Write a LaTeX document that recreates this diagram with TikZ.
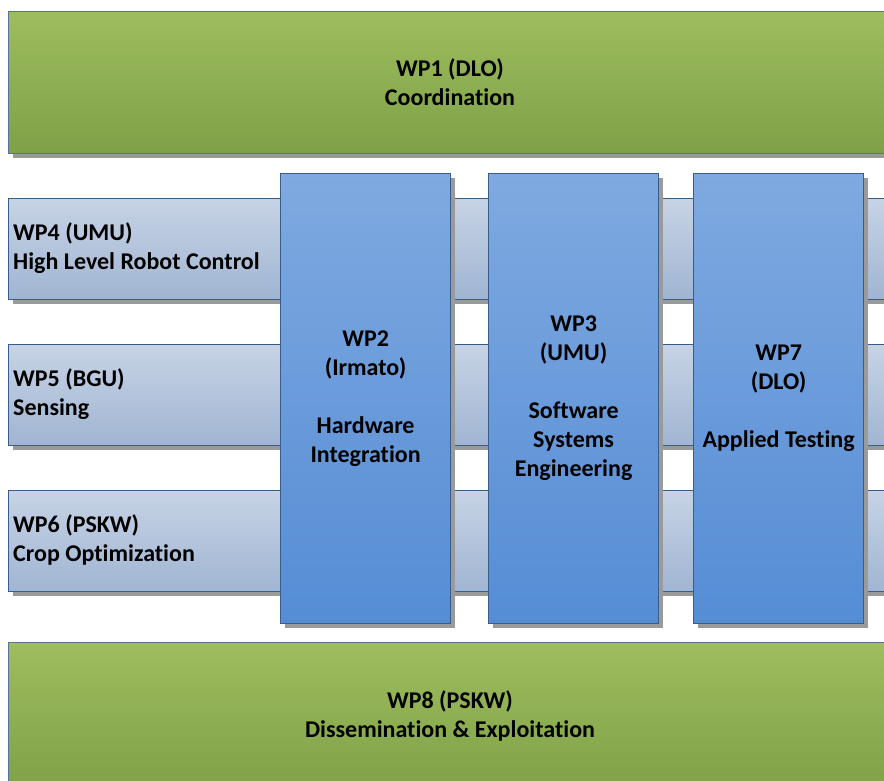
\documentclass[tikz,border=0pt]{standalone}
\usepackage{fontspec}
\setmainfont{Carlito}[Ligatures=NoCommon]
\usetikzlibrary{shadows}
\definecolor{greenT}{HTML}{9DBD5E}
\definecolor{greenB}{HTML}{7FA046}
\definecolor{greenE}{HTML}{5A7394}
\definecolor{bandT}{HTML}{C7D3E5}
\definecolor{bandB}{HTML}{A0B5D2}
\definecolor{colT}{HTML}{7FA9E0}
\definecolor{colB}{HTML}{558DD5}
\definecolor{edgeB}{HTML}{385D8A}
\definecolor{shade}{HTML}{9A9A9A}
\tikzset{
  x=1pt, y=-1pt,
  shd/.style={drop shadow={shadow xshift=4pt, shadow yshift=-4pt, fill=shade, opacity=1}},
  greenbox/.style={rectangle, draw=greenE, line width=1.2pt, top color=greenT, bottom color=greenB, shd, anchor=north west, inner sep=0pt},
  bandbox/.style={rectangle, draw=edgeB, line width=1.2pt, top color=bandT, bottom color=bandB, shd, anchor=north west, inner sep=0pt},
  colbox/.style={rectangle, draw=edgeB, line width=1.2pt, top color=colT, bottom color=colB, shd, anchor=north west, inner sep=0pt,
     minimum width=170pt, minimum height=450pt, align=center, font=\bfseries\fontsize{24}{29}\selectfont},
  lbl/.style={align=left, anchor=west, inner sep=0pt, font=\bfseries\fontsize{24}{29}\selectfont},
  ctr/.style={align=center, inner sep=0pt, font=\bfseries\fontsize{24}{29}\selectfont}
}
\begin{document}
\begin{tikzpicture}
\useasboundingbox (0,0) rectangle (884,781);
% WP1
\node[greenbox, minimum width=884pt, minimum height=142pt] (wp1) at (8,11) {};
\node[ctr] (t1) at (450,82) {WP1 (DLO)\\Coordination};
% bands
\node[bandbox, minimum width=884pt, minimum height=101pt] (wp4) at (8,198) {};
\node[bandbox, minimum width=884pt, minimum height=101pt] (wp5) at (8,344) {};
\node[bandbox, minimum width=884pt, minimum height=101pt] (wp6) at (8,490) {};
\node[lbl] (t4) at (13,248) {WP4 (UMU)\\High Level Robot Control};
\node[lbl] (t5) at (13,394) {WP5 (BGU)\\Sensing};
\node[lbl] (t6) at (13,540) {WP6 (PSKW)\\Crop Optimization};
% columns
\node[colbox] (wp2) at (280,173) {WP2\\(Irmato)\\[29pt]Hardware\\Integration};
\node[colbox] (wp3) at (488,173) {WP3\\(UMU)\\[29pt]Software\\Systems\\Engineering};
\node[colbox] (wp7) at (693,173) {WP7\\(DLO)\\[29pt]Applied Testing};
% WP8
\node[greenbox, minimum width=884pt, minimum height=150pt] (wp8) at (8,642) {};
\node[ctr] (t8) at (450,716) {WP8 (PSKW)\\Dissemination \& Exploitation};
\end{tikzpicture}
\end{document}
